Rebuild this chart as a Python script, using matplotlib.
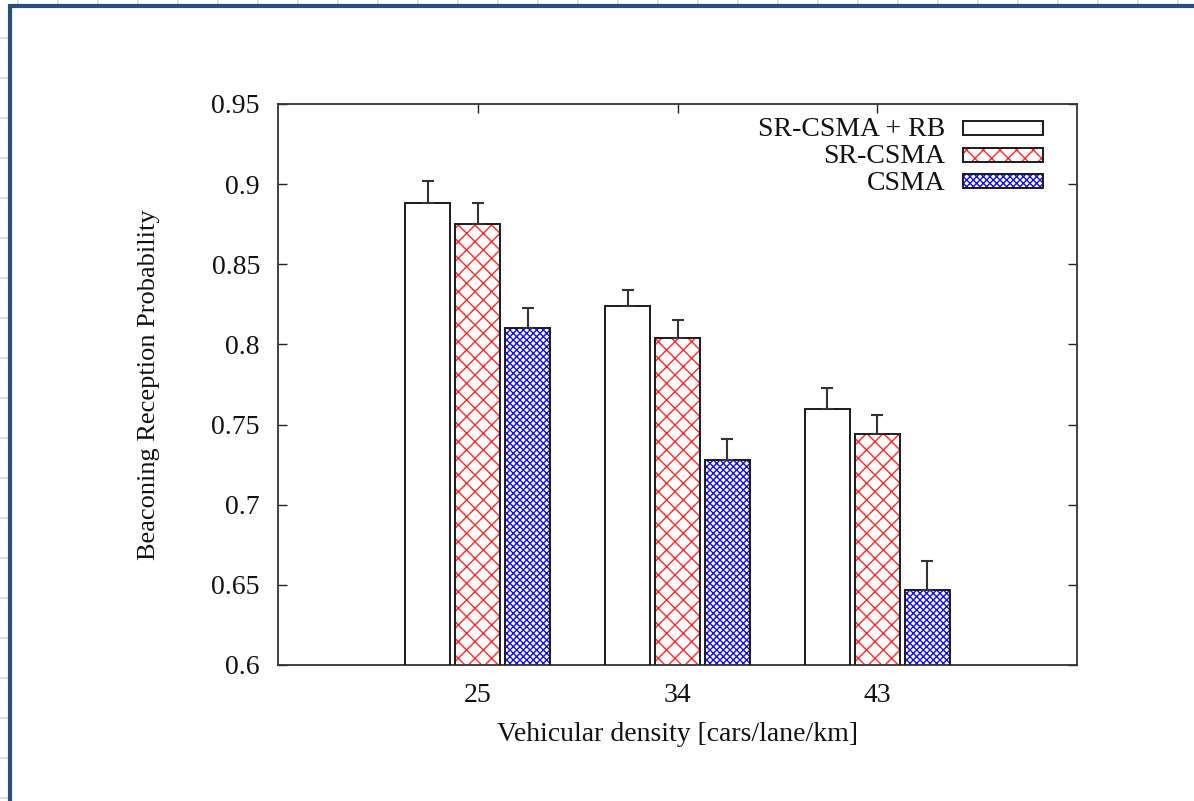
import matplotlib
matplotlib.use("Agg")
import matplotlib.pyplot as plt
import matplotlib.patches as mpatches
import numpy as np

# ---- data ----
densities = ["25", "34", "43"]
series_names = ["SR-CSMA + RB", "SR-CSMA", "CSMA"]
srcsma_rb = [0.888, 0.824, 0.760]
srcsma_rb_err = [0.014, 0.010, 0.013]
srcsma = [0.875, 0.804, 0.744]
srcsma_err = [0.013, 0.011, 0.012]
csma = [0.810, 0.728, 0.647]
csma_err = [0.013, 0.013, 0.018]
yticks = [0.6, 0.65, 0.7, 0.75, 0.8, 0.85, 0.9, 0.95]
ytick_labels = ["0.6", "0.65", "0.7", "0.75", "0.8", "0.85", "0.9", "0.95"]

plt.rcParams['font.family'] = ['Liberation Serif', 'DejaVu Serif']
plt.rcParams['hatch.linewidth'] = 1.0

W, H = 1194, 801
fig = plt.figure(figsize=(W / 100, H / 100), dpi=100)
fig.patch.set_facecolor('white')

bg = fig.add_axes([0, 0, 1, 1], zorder=-10)
bg.set_xlim(0, W)
bg.set_ylim(H, 0)
bg.axis('off')
grid_c = '#d3dbe6'
for x in range(18, W, 40):
    bg.plot([x, x], [0, 5], color=grid_c, lw=1.2)
for y in range(38, H, 40):
    bg.plot([0, 8], [y, y], color=grid_c, lw=1.2)
frame_c = '#28507f'
bg.plot([10, W], [5.5, 5.5], color=frame_c, lw=3.0, solid_capstyle='butt')
bg.plot([10, 10], [4, H], color=frame_c, lw=3.0, solid_capstyle='butt')

L, R, T, B = 278, 1077, 104, 665
ax = fig.add_axes([L / W, (H - B) / H, (R - L) / W, (B - T) / H])
ax.set_facecolor('none')
x = np.arange(len(densities))
width = 0.225
off = 0.25
styles = [
    dict(edgecolor='#111111', hatch=None),
    dict(edgecolor='#ff2a2a', hatch='xx'),
    dict(edgecolor='#1010ee', hatch='xxxxx'),
]
vals = [srcsma_rb, srcsma, csma]
errs = [srcsma_rb_err, srcsma_err, csma_err]
for i, (v, e, st) in enumerate(zip(vals, errs, styles)):
    pos = x + (i - 1) * off
    ax.bar(pos, v, width, color='white', edgecolor=st['edgecolor'],
           hatch=st['hatch'], linewidth=0, zorder=2)
    ax.bar(pos, v, width, facecolor='none', edgecolor='#1a1a1a', linewidth=1.4, zorder=3)
    ax.errorbar(pos, v, yerr=[np.zeros(len(v)), e], fmt='none', ecolor='#333333',
                elinewidth=1.5, capsize=4.3, capthick=1.5, zorder=4)

ax.set_xlim(-1, 3)
ax.set_ylim(0.6, 0.95)
ax.set_yticks(yticks)
ax.set_yticklabels(ytick_labels)
ax.set_xticks(x)
ax.set_xticklabels(densities)
ax.tick_params(direction='in', length=6.5, width=1.0, colors='#222222',
               labelsize=20, labelcolor='#111111', top=True, right=True)
ax.tick_params(axis='y', pad=13)
ax.tick_params(axis='x', pad=13)
for s in ax.spines.values():
    s.set_linewidth(1.3)
    s.set_color('#333333')

ax.set_xlabel('Vehicular density [cars/lane/km]', fontsize=20, color='#111111', labelpad=10)
ax.set_ylabel('Beaconing Reception Probability', fontsize=19, color='#111111', labelpad=37)

rows_y = [127.5, 154.5, 181.0]
for name, st, yy in zip(series_names, styles, rows_y):
    bg.text(945, yy + 2, name, ha='right', va='center', fontsize=20, color='#111111')
    bg.add_patch(mpatches.Rectangle((963, yy - 7), 80, 14, facecolor='white',
                                    edgecolor=st['edgecolor'], hatch=st['hatch'],
                                    linewidth=0, zorder=2))
    bg.add_patch(mpatches.Rectangle((963, yy - 7), 80, 14, facecolor='none',
                                    edgecolor='#1a1a1a', linewidth=1.4, zorder=3))

fig.savefig('out.png', dpi=100, facecolor='white')
